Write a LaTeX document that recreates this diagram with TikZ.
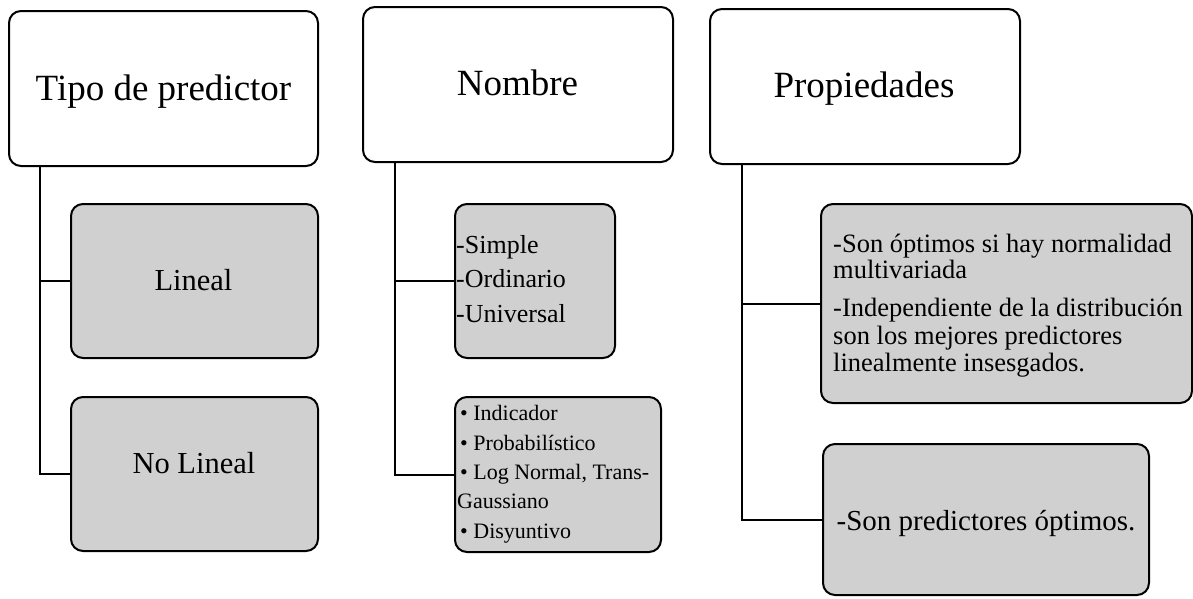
\documentclass[tikz,border=0pt]{standalone}
\usepackage{fontspec}
\setmainfont{Liberation Serif}
\definecolor{boxgray}{RGB}{208,208,208}
\begin{document}
\begin{tikzpicture}[x=1pt,y=-1pt]
\tikzset{
  hdr/.style={draw=black, line width=2pt, rounded corners=12pt, fill=white, inner sep=0pt},
  sub/.style={hdr, fill=boxgray},
  conn/.style={draw=black, line width=2pt},
  txt/.style={inner sep=0pt, anchor=base},
  ltxt/.style={inner sep=0pt, anchor=base west}
}
\useasboundingbox (0,0) rectangle (1193,598);

% header boxes
\node[hdr, minimum width=309pt, minimum height=155pt] (h1) at (163.5,88.5) {};
\node[hdr, minimum width=310pt, minimum height=155pt] (h2) at (518,84.5) {};
\node[hdr, minimum width=310pt, minimum height=155pt] (h3) at (865,86.5) {};

% child boxes
\node[sub, minimum width=247pt, minimum height=154pt] (c1) at (194.5,281) {};
\node[sub, minimum width=247pt, minimum height=154pt] (c2) at (194.5,474) {};
\node[sub, minimum width=160pt, minimum height=154pt] (c3) at (535,281) {};
\node[sub, minimum width=206pt, minimum height=155pt] (c4) at (558,474.5) {};
\node[sub, minimum width=371pt, minimum height=199pt] (c5) at (1006.5,303.5) {};
\node[sub, minimum width=326pt, minimum height=151pt] (c6) at (986,519.5) {};

% trunks
\coordinate (t1) at (40,0);
\coordinate (t2) at (395,0);
\coordinate (t3) at (741.5,0);
\draw[conn] (h1.south -| t1) |- (c1.west);
\draw[conn] (h1.south -| t1) |- (c2.west);
\draw[conn] (h2.south -| t2) |- (c3.west);
\draw[conn] (h2.south -| t2) |- (c4.west);
\draw[conn] (h3.south -| t3) |- (c5.west);
\draw[conn] (h3.south -| t3) |- (c6.west);

% texts
\node[txt, font=\fontsize{37pt}{44pt}\selectfont] (h1t) at (163.5,100) {Tipo de predictor};
\node[txt, font=\fontsize{37pt}{44pt}\selectfont] (h2t) at (517.5,95) {Nombre};
\node[txt, font=\fontsize{37pt}{44pt}\selectfont] (h3t) at (864,97) {Propiedades};
\node[txt, font=\fontsize{30.5pt}{36pt}\selectfont] (c1t) at (193.5,290) {Lineal};
\node[txt, font=\fontsize{30.5pt}{36pt}\selectfont] (c2t) at (194,473) {No Lineal};

\foreach \t/\yy [count=\i] in {{-Simple}/253, {-Ordinario}/287.5, {-Universal}/322}
  \node[ltxt, font=\fontsize{26pt}{30pt}\selectfont] (c3t\i) at (456,\yy) {\t};

\foreach \t/\xx/\yy [count=\i] in {{• Indicador}/460/420, {• Probabilístico}/460/450, {• Log Normal, Trans-}/460/479, {Gaussiano}/457/508, {• Disyuntivo}/460/538}
  \node[ltxt, font=\fontsize{22pt}{26pt}\selectfont] (c4t\i) at (\xx,\yy) {\t};

\foreach \t/\yy [count=\i] in {{-Son óptimos si hay normalidad}/252, {multivariada}/278.5, {-Independiente de la distribución}/316, {son los mejores predictores}/344, {linealmente insesgados.}/371.5}
  \node[ltxt, font=\fontsize{26.5pt}{30pt}\selectfont] (c5t\i) at (833,\yy) {\t};

\node[txt, font=\fontsize{29pt}{34pt}\selectfont] (c6t) at (986,530) {-Son predictores óptimos.};
\end{tikzpicture}
\end{document}
